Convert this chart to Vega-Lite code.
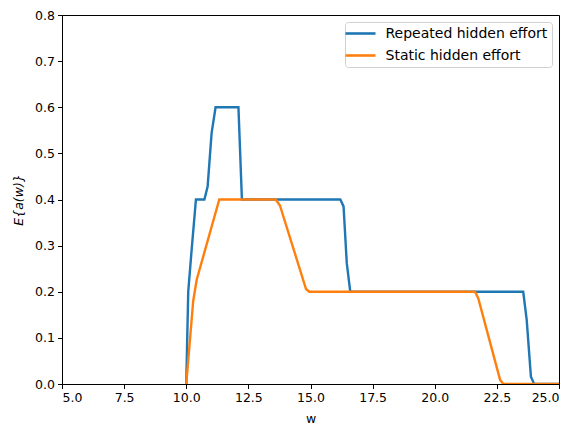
{
  "$schema": "https://vega.github.io/schema/vega-lite/v6.json",
  "width": 497,
  "height": 369,
  "autosize": "none",
  "padding": {"left": 62, "top": 15, "right": 24, "bottom": 53},
  "background": "white",
  "data": {
    "values": [
      {"series": "Repeated hidden effort", "w": 10.0, "a": 0.0},
      {"series": "Repeated hidden effort", "w": 10.08, "a": 0.2},
      {"series": "Repeated hidden effort", "w": 10.2, "a": 0.28},
      {"series": "Repeated hidden effort", "w": 10.39, "a": 0.4},
      {"series": "Repeated hidden effort", "w": 10.73, "a": 0.4},
      {"series": "Repeated hidden effort", "w": 10.86, "a": 0.428},
      {"series": "Repeated hidden effort", "w": 11.02, "a": 0.544},
      {"series": "Repeated hidden effort", "w": 11.18, "a": 0.6},
      {"series": "Repeated hidden effort", "w": 12.1, "a": 0.6},
      {"series": "Repeated hidden effort", "w": 12.24, "a": 0.4},
      {"series": "Repeated hidden effort", "w": 16.2, "a": 0.4},
      {"series": "Repeated hidden effort", "w": 16.33, "a": 0.385},
      {"series": "Repeated hidden effort", "w": 16.46, "a": 0.262},
      {"series": "Repeated hidden effort", "w": 16.6, "a": 0.2},
      {"series": "Repeated hidden effort", "w": 23.56, "a": 0.2},
      {"series": "Repeated hidden effort", "w": 23.7, "a": 0.139},
      {"series": "Repeated hidden effort", "w": 23.87, "a": 0.016},
      {"series": "Repeated hidden effort", "w": 24.0, "a": 0.0},
      {"series": "Repeated hidden effort", "w": 25.0, "a": 0.0},
      {"series": "Static hidden effort", "w": 10.0, "a": 0.0},
      {"series": "Static hidden effort", "w": 10.28, "a": 0.18},
      {"series": "Static hidden effort", "w": 10.42, "a": 0.226},
      {"series": "Static hidden effort", "w": 11.33, "a": 0.4},
      {"series": "Static hidden effort", "w": 13.6, "a": 0.4},
      {"series": "Static hidden effort", "w": 13.77, "a": 0.387},
      {"series": "Static hidden effort", "w": 14.82, "a": 0.206},
      {"series": "Static hidden effort", "w": 14.95, "a": 0.2},
      {"series": "Static hidden effort", "w": 21.62, "a": 0.2},
      {"series": "Static hidden effort", "w": 21.75, "a": 0.186},
      {"series": "Static hidden effort", "w": 22.63, "a": 0.009},
      {"series": "Static hidden effort", "w": 22.76, "a": 0.0},
      {"series": "Static hidden effort", "w": 25.0, "a": 0.0}
    ]
  },
  "mark": {"type": "line", "strokeWidth": 2.4, "clip": true},
  "encoding": {
    "x": {
      "field": "w",
      "type": "quantitative",
      "title": "w",
      "scale": {"domain": [5, 25], "nice": false, "zero": false},
      "axis": {"values": [5, 7.5, 10, 12.5, 15, 17.5, 20, 22.5, 25], "format": ".1f", "titlePadding": 8}
    },
    "y": {
      "field": "a",
      "type": "quantitative",
      "title": "E{a(w)}",
      "scale": {"domain": [0, 0.8], "nice": false},
      "axis": {"values": [0, 0.1, 0.2, 0.3, 0.4, 0.5, 0.6, 0.7, 0.8], "format": ".1f", "titleFontStyle": "italic", "titlePadding": 9}
    },
    "color": {
      "field": "series",
      "type": "nominal",
      "title": null,
      "scale": {
        "domain": ["Repeated hidden effort", "Static hidden effort"],
        "range": ["#1f77b4", "#ff7f0e"]
      },
      "legend": {
        "orient": "top-right",
        "offset": 7,
        "padding": 4.5,
        "fillColor": "white",
        "strokeColor": "#d0d0d0",
        "cornerRadius": 3,
        "symbolType": "M-3,0H3",
        "symbolSize": 100,
        "symbolOffset": 4,
        "symbolStrokeWidth": 2.6,
        "labelOffset": 18,
        "labelFontSize": 14,
        "labelLimit": 300,
        "labelFont": "DejaVu Sans",
        "labelColor": "black",
        "rowPadding": 8
      }
    }
  },
  "config": {
    "view": {"stroke": "black", "strokeWidth": 1},
    "axis": {
      "grid": false,
      "domainColor": "black",
      "tickColor": "black",
      "tickSize": 4.5,
      "labelFont": "DejaVu Sans",
      "labelFontSize": 12.5,
      "labelColor": "black",
      "labelPadding": 3,
      "titleFont": "DejaVu Sans",
      "titleFontSize": 12.5,
      "titleFontWeight": "normal",
      "titleColor": "black",
      "titlePadding": 4
    }
  }
}
